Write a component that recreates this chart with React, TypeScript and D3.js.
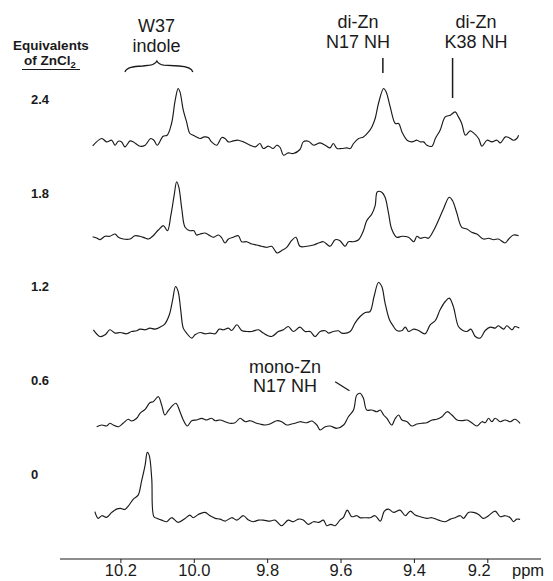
import React from "react";
import * as d3 from "d3";

const equivalents = ["2.4", "1.8", "1.2", "0.6", "0"];
const axisTicks = [10.2, 10.0, 9.8, 9.6, 9.4, 9.2];

const spec24: [number, number][] = [
[10.277,-2.7],[10.252,4.7],[10.239,1.3],[10.225,3],[10.216,-2],[10.207,2],[10.198,1.3],[10.189,-3.7],[10.175,2.3],[10.166,1.3],[10.148,-3],[10.134,-2],[10.119,4.7],[10.110,3],[10.101,-2],[10.085,7],[10.074,8],[10.062,19.7],[10.052,43],[10.044,54.7],[10.039,51.3],[10.030,33],[10.021,21.3],[10.012,9.7],[10.003,8],[9.994,6.3],[9.984,4.7],[9.973,6.3],[9.962,5.7],[9.953,1.3],[9.939,-2],[9.925,5.7],[9.916,4.7],[9.907,1.3],[9.894,2.3],[9.880,3],[9.866,1.3],[9.848,-2],[9.834,-3.7],[9.821,-0.3],[9.812,-5.3],[9.798,-3],[9.785,-5.3],[9.775,-2],[9.766,-4.3],[9.757,-12],[9.744,-9.7],[9.730,-10.3],[9.712,-6.3],[9.703,1.3],[9.689,2],[9.675,-2],[9.657,0.3],[9.643,-2],[9.630,-4.7],[9.621,-0.3],[9.611,-5.3],[9.598,-5.3],[9.584,-4.7],[9.575,-5.3],[9.566,-0.3],[9.552,4.7],[9.539,6.3],[9.525,11.3],[9.516,16.3],[9.507,24.7],[9.498,39.7],[9.484,54.7],[9.477,51.3],[9.466,36.3],[9.452,19.7],[9.443,19.7],[9.434,11.3],[9.420,3],[9.407,1.3],[9.393,3],[9.384,1.3],[9.375,1.3],[9.366,-2],[9.352,-3],[9.343,4.7],[9.330,13],[9.316,26.3],[9.302,28],[9.289,31.3],[9.280,26.3],[9.271,19.7],[9.261,8],[9.248,12.3],[9.239,10.3],[9.225,4.7],[9.216,-3],[9.202,3],[9.189,1.3],[9.175,3],[9.166,0.3],[9.152,6.3],[9.143,5.7],[9.130,3],[9.121,4.7],[9.116,8]
];

const spec18: [number, number][] = [
[10.277,0.3],[10.266,-1],[10.257,-2.7],[10.243,0.7],[10.230,0.7],[10.216,3],[10.207,-0.3],[10.194,-2],[10.175,-2],[10.162,1.3],[10.148,0.7],[10.134,-1],[10.125,-2],[10.112,1.3],[10.098,7],[10.084,11.3],[10.073,6.3],[10.064,21.3],[10.055,41.3],[10.048,55.3],[10.042,49.7],[10.034,28],[10.025,9.7],[10.012,6.3],[10.001,6.3],[9.994,2],[9.984,3],[9.971,4],[9.957,1.3],[9.948,-0.3],[9.934,2],[9.925,-1],[9.916,-6],[9.907,-2],[9.894,-0.3],[9.880,1.3],[9.871,-4.7],[9.857,-4.7],[9.843,-7],[9.830,-8],[9.816,-9.3],[9.803,-10.3],[9.789,-9.3],[9.780,-13.7],[9.774,-16],[9.762,-13.7],[9.748,-10.3],[9.735,-3.7],[9.723,-0.3],[9.712,-9.3],[9.693,-9.3],[9.675,-8],[9.661,-6],[9.648,-4.7],[9.630,-9.3],[9.616,-2.7],[9.603,-3.7],[9.589,-9.3],[9.580,-4.7],[9.566,-4.7],[9.552,-2.7],[9.539,6.3],[9.530,16.3],[9.516,23],[9.507,31.3],[9.501,45.3],[9.489,44.7],[9.480,39.7],[9.471,24.7],[9.462,8],[9.448,-0.3],[9.434,0.7],[9.416,-0.3],[9.402,-4.7],[9.393,0.7],[9.384,-1.3],[9.371,-0.3],[9.362,-1.3],[9.348,6.3],[9.335,16.3],[9.321,28],[9.305,39.7],[9.296,36.3],[9.285,24.7],[9.271,9.7],[9.257,8],[9.244,4.7],[9.230,3],[9.212,-2],[9.198,-1.3],[9.184,-2.7],[9.171,-2],[9.153,-6],[9.143,-2],[9.130,2],[9.116,1.3]
];

const spec12: [number, number][] = [
[10.275,1],[10.257,-5.7],[10.243,-4],[10.230,1],[10.216,-2.3],[10.202,-1.7],[10.184,-3],[10.171,-0.7],[10.157,0],[10.148,1.7],[10.134,1],[10.121,2.7],[10.107,1.7],[10.093,3.7],[10.080,7],[10.068,16],[10.059,31],[10.051,44.3],[10.044,39.3],[10.037,21],[10.030,2.7],[10.021,-2.3],[10.007,-7.3],[9.998,-4],[9.984,-1.7],[9.971,-3],[9.957,-2.3],[9.943,-3],[9.932,1.7],[9.921,1],[9.907,2.7],[9.898,0.3],[9.884,6],[9.871,0.3],[9.857,-0.7],[9.843,-0.7],[9.825,1],[9.812,-2.3],[9.789,-5.7],[9.771,-0.7],[9.757,1],[9.744,4.3],[9.730,-0.7],[9.712,3.7],[9.698,-0.7],[9.684,-0.7],[9.671,-5.7],[9.657,-0.7],[9.643,0],[9.634,-2.3],[9.621,-0.7],[9.607,0],[9.598,-2.3],[9.575,-0.7],[9.562,7.7],[9.548,14.3],[9.534,18.3],[9.521,19.3],[9.510,34.3],[9.498,48.3],[9.489,44.3],[9.480,27.7],[9.468,11],[9.457,4.3],[9.448,0.3],[9.434,0.3],[9.425,3.7],[9.416,-0.7],[9.402,1.7],[9.389,0.3],[9.371,-3],[9.357,6],[9.343,10.3],[9.330,21],[9.316,29.3],[9.305,32.7],[9.294,24.3],[9.280,4.3],[9.268,0.3],[9.257,-0.7],[9.246,1.7],[9.234,-5.7],[9.221,-7.3],[9.207,0.3],[9.193,3.7],[9.180,2.7],[9.171,5],[9.157,1.7],[9.148,5],[9.134,1],[9.126,4.3],[9.114,2.7]
];

const spec06: [number, number][] = [
[10.266,-2.1],[10.252,-0.4],[10.239,-1.4],[10.230,1.3],[10.221,-0.4],[10.207,-2.1],[10.194,1.3],[10.180,5.3],[10.171,3.6],[10.157,6.3],[10.148,11.3],[10.134,15.3],[10.121,21.9],[10.112,22.9],[10.098,27.9],[10.089,19.6],[10.080,9.6],[10.071,13.9],[10.062,17.9],[10.050,21.3],[10.039,12.9],[10.030,4.6],[10.019,-1.4],[10.007,3.9],[9.994,4.6],[9.980,6.3],[9.966,4.6],[9.953,6.3],[9.943,3.9],[9.930,4.6],[9.916,2.9],[9.903,1.3],[9.889,1.9],[9.875,6.3],[9.861,2.9],[9.848,3.9],[9.834,1.9],[9.821,0.6],[9.807,-0.4],[9.794,0.6],[9.775,3.9],[9.762,2.9],[9.748,-0.4],[9.735,0.6],[9.721,1.9],[9.712,2.9],[9.693,1.9],[9.680,3.6],[9.666,-0.4],[9.657,-5.4],[9.643,-2.1],[9.630,-1.4],[9.611,-3.7],[9.593,-0.4],[9.580,7.9],[9.566,14.6],[9.557,29.6],[9.548,31.3],[9.539,26.3],[9.530,14.6],[9.516,14.6],[9.502,12.9],[9.493,14.6],[9.484,9.6],[9.475,6.3],[9.462,-0.4],[9.452,6.3],[9.443,9.6],[9.434,4.6],[9.420,2.9],[9.407,-1.4],[9.393,0.6],[9.380,1.3],[9.366,1.9],[9.352,4.6],[9.339,5.3],[9.325,7.9],[9.311,12.9],[9.298,9.6],[9.284,4.6],[9.271,3.9],[9.257,4.6],[9.244,1.9],[9.230,-1.4],[9.216,2.9],[9.207,1.9],[9.198,6.3],[9.189,2.9],[9.180,6.3],[9.166,2.9],[9.153,4.6],[9.139,2.9],[9.126,5.3],[9.112,1.3]
];

const spec0: [number, number][] = [
[10.271,6.7],[10.262,0],[10.252,2.7],[10.239,1],[10.225,6],[10.212,9.3],[10.201,10],[10.189,9],[10.180,12.3],[10.166,19.3],[10.153,23.3],[10.144,36.7],[10.134,53.3],[10.128,66],[10.123,63.3],[10.116,40],[10.110,1.7],[10.101,0],[10.089,-1.7],[10.075,-3.3],[10.062,0.7],[10.044,-4],[10.025,0],[10.012,3.3],[10.003,0.7],[9.989,4],[9.971,6],[9.957,2.7],[9.943,0],[9.930,-0.7],[9.916,-2.7],[9.898,0.7],[9.884,-1.7],[9.866,2.7],[9.852,-1.7],[9.839,-3.3],[9.825,-1.7],[9.812,-1.7],[9.794,-2.7],[9.780,-1.7],[9.762,-7.3],[9.744,-1.7],[9.730,-3.3],[9.716,-0.7],[9.703,-1.7],[9.689,-6],[9.675,-3.3],[9.661,-4],[9.648,-1.7],[9.639,-7.3],[9.628,-6],[9.616,-7.3],[9.603,-1.7],[9.594,0.7],[9.583,8.3],[9.571,1.7],[9.557,2.7],[9.548,0.7],[9.534,0.7],[9.521,0.7],[9.507,2.7],[9.493,-2.7],[9.482,7.3],[9.471,9.3],[9.457,6],[9.439,8.3],[9.425,2.7],[9.411,7.3],[9.398,3.3],[9.384,1.7],[9.366,0],[9.352,0.7],[9.334,-1.7],[9.316,-3.3],[9.302,-0.7],[9.289,0.7],[9.275,2.7],[9.266,0],[9.253,6],[9.239,6],[9.225,4],[9.212,0],[9.198,2.7],[9.180,7.3],[9.166,1.7],[9.153,2.7],[9.139,0.7],[9.130,-3.3],[9.121,-0.7],[9.112,-1]
];

const spectra = [spec24, spec18, spec12, spec06, spec0];

const FONT = "'Liberation Sans', Arial, Helvetica, sans-serif";
const INK = "#1a1a1a";

export default function App() {
  const W = 553, H = 581;
  const x = d3.scaleLinear().domain([10.366, 9.055]).range([60, 541]);
  const base = d3.scalePoint<string>().domain(equivalents).range([143.2, 518.4]);
  const amp = d3.scaleLinear().domain([0, 100]).range([0, 100]);
  const axisY = 559;

  const line = (b: number) =>
    d3.line<[number, number]>()
      .x(d => x(d[0]))
      .y(d => b - amp(d[1]))
      .curve(d3.curveCatmullRom.alpha(0.5));

  // brace over W37
  const bx1 = x(10.189), bx2 = x(10.004), bm = x(10.102);
  const brace = `M${bx1},72 C${bx1 + 2},67 ${bx1 + 8},66.5 ${bx1 + 18},66 L${bm - 7},65.2 Q${bm - 2},64.5 ${bm},61 Q${bm + 2},64.5 ${bm + 7},65.2 L${bx2 - 14},66 C${bx2 - 5},66.5 ${bx2 - 1},68 ${bx2},72`;

  return (
    <svg width={W} height={H} style={{ position: "absolute", left: 0, top: 0, background: "#fff" }}
      fontFamily={FONT}>
      <rect width={W} height={H} fill="#fff" />
      {/* header */}
      <text x={51} y={50} fontSize={13.5} fontWeight="bold" textAnchor="middle" fill={INK}>Equivalents</text>
      <text x={50} y={65} fontSize={13.5} fontWeight="bold" textAnchor="middle" fill={INK}>
        of ZnCl<tspan fontSize={9.5} dy={3}>2</tspan>
      </text>
      <line x1={22} x2={80} y1={69.5} y2={69.5} stroke={INK} strokeWidth={1} />

      {/* equivalents labels */}
      {equivalents.map(e => (
        <text key={e} x={31} y={(base(e) as number) - 39.5} fontSize={13} fontWeight="bold" fill={INK}>{e}</text>
      ))}

      {/* spectra */}
      {spectra.map((s, i) => (
        <path key={i} d={line(base(equivalents[i]) as number)(s) || ""} fill="none" stroke={INK} strokeWidth={1.15} strokeLinejoin="round" />
      ))}

      {/* annotations */}
      <text x={x(10.103)} y={32} fontSize={18} textAnchor="middle" fill={INK}>W37</text>
      <text x={x(10.103)} y={52} fontSize={18} textAnchor="middle" fill={INK}>indole</text>
      <path d={brace} fill="none" stroke={INK} strokeWidth={1.3} />

      <text x={x(9.554)} y={28} fontSize={18} textAnchor="middle" fill={INK}>di-Zn</text>
      <text x={x(9.554)} y={48} fontSize={18} textAnchor="middle" fill={INK}>N17 NH</text>
      <line x1={x(9.486)} x2={x(9.486)} y1={58} y2={73} stroke={INK} strokeWidth={1.5} />

      <text x={x(9.232)} y={28} fontSize={18} textAnchor="middle" fill={INK}>di-Zn</text>
      <text x={x(9.232)} y={48} fontSize={18} textAnchor="middle" fill={INK}>K38 NH</text>
      <line x1={x(9.296)} x2={x(9.296)} y1={58} y2={98} stroke={INK} strokeWidth={1.5} />

      <text x={x(9.753)} y={373} fontSize={18} textAnchor="middle" fill={INK}>mono-Zn</text>
      <text x={x(9.753)} y={392} fontSize={18} textAnchor="middle" fill={INK}>N17 NH</text>
      <line x1={x(9.616)} y1={381.7} x2={x(9.577)} y2={390.7} stroke={INK} strokeWidth={1.3} />

      {/* axis */}
      <line x1={x.range()[0]} x2={x.range()[1]} y1={axisY} y2={axisY} stroke={INK} strokeWidth={1} />
      {axisTicks.map((t, i) => (
        <g key={t}>
          <line x1={x(t)} x2={x(t)} y1={axisY} y2={axisY + 4} stroke={INK} strokeWidth={1} />
          <text x={i === axisTicks.length - 1 ? x(t) + 3 : x(t)} y={576} fontSize={16.5}
            textAnchor={i === axisTicks.length - 1 ? "end" : "middle"} fill={INK}>
            {d3.format(".1f")(t)}
          </text>
        </g>
      ))}
      <text x={512} y={576} fontSize={16.5} fill={INK}>ppm</text>
    </svg>
  );
}
